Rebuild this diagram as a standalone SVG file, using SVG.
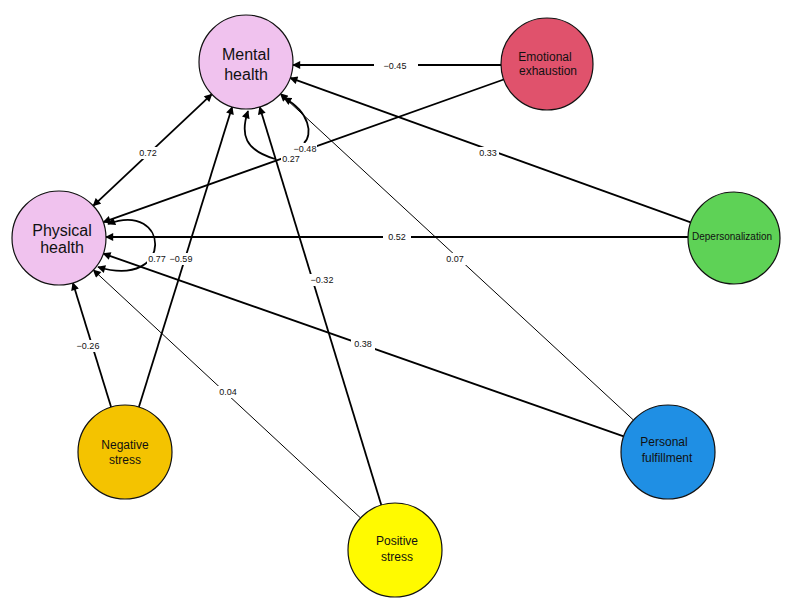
<svg xmlns="http://www.w3.org/2000/svg" width="800" height="609" viewBox="0 0 800 609">
<defs>
<marker id="ah" viewBox="0 0 10 10" refX="9" refY="5" markerWidth="9" markerHeight="8" markerUnits="userSpaceOnUse" orient="auto-start-reverse">
<path d="M0,0 L10,5 L0,10 z" fill="#000"/>
</marker>
<style>
.node circle{stroke:#111;stroke-width:1.2}
.node text{font-family:"Liberation Sans",Arial,sans-serif;fill:#111;text-anchor:middle}
.big{font-size:16px}
.mid{font-size:12px}
.e{fill:none;stroke:#000;stroke-width:1.8}
.t{fill:none;stroke:#000;stroke-width:1}
.lb rect{fill:#fff}
.lb text{font-family:"Liberation Sans",Arial,sans-serif;font-size:9px;fill:#111;text-anchor:middle}
</style>
</defs>
<rect width="800" height="609" fill="#fff"/>
<g id="connectors">
<line class="e" x1="501" y1="65" x2="293" y2="65" marker-end="url(#ah)"/>
<line class="e" x1="503.7" y1="79.5" x2="103.3" y2="222.2" marker-end="url(#ah)"/>
<line class="e" x1="93.2" y1="205.8" x2="211.8" y2="94.2" marker-start="url(#ah)" marker-end="url(#ah)"/>
<line class="e" x1="690.7" y1="222.4" x2="290.2" y2="77.9" marker-end="url(#ah)"/>
<line class="e" x1="688" y1="237" x2="106" y2="237" marker-end="url(#ah)"/>
<line class="t" x1="633.5" y1="420.1" x2="280.5" y2="93.9" marker-end="url(#ah)"/>
<line class="e" x1="623.7" y1="436.4" x2="103.3" y2="253.6" marker-end="url(#ah)"/>
<line class="e" x1="381.3" y1="505" x2="259.7" y2="107" marker-end="url(#ah)"/>
<line class="t" x1="360.6" y1="518" x2="93.4" y2="270" marker-end="url(#ah)"/>
<line class="e" x1="138.9" y1="407.1" x2="232.1" y2="106.9" marker-end="url(#ah)"/>
<line class="e" x1="111.1" y1="407.1" x2="72.9" y2="282.9" marker-end="url(#ah)"/>
<path class="e" d="M108,224 C170,200 175,290 98,267" marker-start="url(#ah)" marker-end="url(#ah)"/>
<path class="e" d="M275,159 C245,150 240,135 248,111" marker-end="url(#ah)"/>
<path class="e" d="M304,143 C313,135 310,112 284,98" marker-end="url(#ah)"/>
</g>
<g id="labels" class="lb">
<rect x="374" y="59" width="44" height="13"/><text x="395" y="68.5">−0.45</text>
<rect x="137" y="147" width="22" height="12"/><text x="148" y="156">0.72</text>
<rect x="477" y="147" width="22" height="12"/><text x="488" y="156">0.33</text>
<rect x="281" y="153" width="20" height="12"/><text x="291" y="162">0.27</text>
<rect x="293" y="143" width="24" height="11"/><text x="305" y="152">−0.48</text>
<rect x="383" y="231" width="28" height="12"/><text x="397" y="240">0.52</text>
<rect x="147" y="253" width="20" height="12"/><text x="157" y="262">0.77</text>
<rect x="169" y="253" width="24" height="12"/><text x="181" y="262">−0.59</text>
<rect x="444" y="253" width="22" height="12"/><text x="455" y="262">0.07</text>
<rect x="309" y="274" width="26" height="12"/><text x="322" y="283">−0.32</text>
<rect x="75" y="340" width="26" height="12"/><text x="88" y="349">−0.26</text>
<rect x="351" y="338" width="24" height="12"/><text x="363" y="347">0.38</text>
<rect x="217" y="386" width="22" height="12"/><text x="228" y="395">0.04</text>
</g>
<g id="mental" class="node">
<circle cx="246" cy="62" r="47" fill="#F0C2EE"/>
<text class="big" x="246" y="60">Mental</text>
<text class="big" x="246" y="80">health</text>
</g>
<g id="physical" class="node">
<circle cx="59" cy="238" r="47" fill="#F0C2EE"/>
<text class="big" x="62" y="236">Physical</text>
<text class="big" x="62" y="253">health</text>
</g>
<g id="emotional" class="node">
<circle cx="547" cy="64" r="46" fill="#E0526C"/>
<text class="mid" x="545" y="61">Emotional</text>
<text class="mid" x="548" y="75">exhaustion</text>
</g>
<g id="depersonalization" class="node">
<circle cx="734" cy="238" r="46" fill="#5ED256"/>
<text x="732" y="240" style="font-size:10px">Depersonalization</text>
</g>
<g id="negative" class="node">
<circle cx="125" cy="452" r="47" fill="#F4C300"/>
<text class="mid" x="125" y="449">Negative</text>
<text class="mid" x="125" y="464">stress</text>
</g>
<g id="positive" class="node">
<circle cx="395" cy="550" r="47" fill="#FFFA00"/>
<text class="mid" x="397" y="545">Positive</text>
<text class="mid" x="397" y="561">stress</text>
</g>
<g id="fulfillment" class="node">
<circle cx="668" cy="452" r="47" fill="#1F8FE4"/>
<text class="mid" x="664" y="446">Personal</text>
<text class="mid" x="667" y="462">fulfillment</text>
</g>
</svg>
